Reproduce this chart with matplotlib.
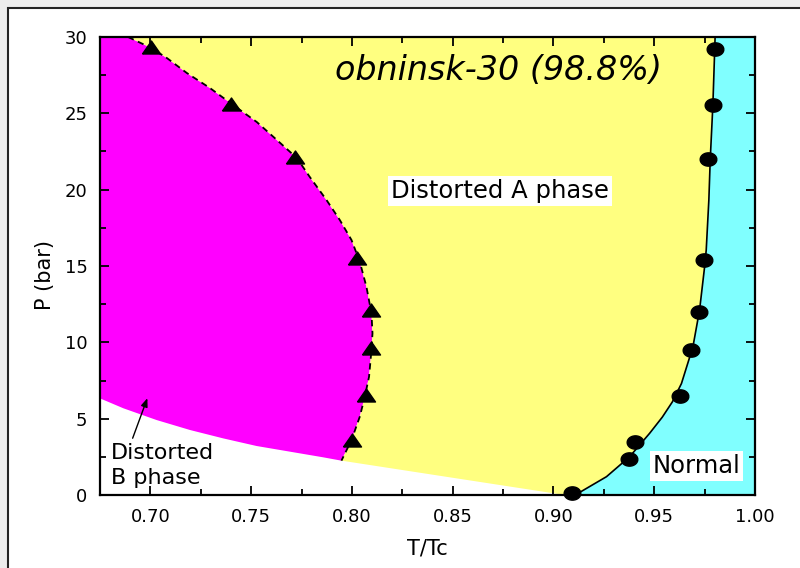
import numpy as np
import matplotlib
matplotlib.use("Agg")
import matplotlib.pyplot as plt
from matplotlib.patches import Rectangle

# measured A-B transition (triangles) and A-N transition (circles)
AB_T = [0.7001, 0.7398, 0.7717, 0.8027, 0.8097, 0.8097, 0.8069, 0.7998]
AB_P = [29.34, 25.63, 22.12, 15.50, 12.12, 9.61, 6.57, 3.58]
AN_T = [0.9800, 0.9791, 0.9766, 0.9745, 0.9720, 0.9684, 0.9626, 0.9404, 0.9375, 0.9092]
AN_P = [29.21, 25.55, 22.01, 15.39, 11.99, 9.48, 6.48, 3.49, 2.38, 0.11]

# guide line for the A-B boundary (top -> bottom)
AB_LINE_T = [0.6889, 0.7001, 0.7082, 0.7181, 0.7295, 0.7410, 0.7528, 0.7628,
             0.7727, 0.7791, 0.7874, 0.7940, 0.7998, 0.8039, 0.8072, 0.8097,
             0.8102, 0.8097, 0.8085, 0.8064, 0.8039, 0.7998, 0.7948]
AB_LINE_P = [30.0, 29.3, 28.62, 27.64, 26.66, 25.55, 24.43, 23.25,
             22.07, 20.83, 19.32, 18.01, 16.70, 15.28, 13.64, 11.90,
             10.59, 9.50, 7.75, 6.44, 5.13, 3.60, 2.25]

# guide line for the A-N boundary (bottom -> top)
AN_LINE_T = [0.9092, 0.9122, 0.9263, 0.9378, 0.9477, 0.9540, 0.9590, 0.9635,
             0.9692, 0.9725, 0.9750, 0.9758, 0.9771, 0.9778, 0.9791, 0.9800,
             0.9802]
AN_LINE_P = [0.0, 0.11, 1.20, 2.51, 4.04, 5.10, 6.10, 7.30,
             9.71, 12.12, 14.95, 16.05, 19.32, 22.01, 25.55, 29.15,
             30.0]

# lower edge of the distorted phases (B phase below), left -> right
B_EDGE_T = [0.6750, 0.6866, 0.7031, 0.7196, 0.7361, 0.7527, 0.7692, 0.7857, 0.7948]
B_EDGE_P = [6.33, 5.68, 4.91, 4.26, 3.71, 3.21, 2.84, 2.47, 2.25]
A_EDGE_T = [0.7948, 0.9056]
A_EDGE_P = [2.25, 0.0]

TMIN, TMAX, PMAX = 0.675, 1.0, 30.0

MAGENTA = "#ff00ff"
YELLOW = "#ffff80"
CYAN = "#80ffff"

plt.rcParams["font.family"] = "DejaVu Sans"

fig = plt.figure(figsize=(8, 5.68), dpi=100)
fig.patch.set_facecolor("#ececec")
fig.patches.append(Rectangle((8 / 800, -0.05), 1.0, 1 - 8 / 568 + 0.05,
                             transform=fig.transFigure, facecolor="white",
                             edgecolor="#222222", lw=1.5, zorder=-10))

ax = fig.add_axes([0.125, 0.1285, 0.81875, 0.8064])
ax.patch.set_alpha(0)
ax.set_xlim(TMIN, TMAX)
ax.set_ylim(0, PMAX)

# phase regions
pink_T = [TMIN] + AB_LINE_T + B_EDGE_T[::-1]
pink_P = [PMAX] + AB_LINE_P + B_EDGE_P[::-1]
ax.fill(pink_T, pink_P, color=MAGENTA, lw=0, zorder=1)

yel_T = AB_LINE_T + A_EDGE_T[1:] + AN_LINE_T
yel_P = AB_LINE_P + A_EDGE_P[1:] + AN_LINE_P
ax.fill(yel_T, yel_P, color=YELLOW, lw=0, zorder=1)

cyan_T = AN_LINE_T + [TMAX, TMAX]
cyan_P = AN_LINE_P + [PMAX, 0.0]
ax.fill(cyan_T, cyan_P, color=CYAN, lw=0, zorder=1)

# boundaries
ax.plot(AB_LINE_T, AB_LINE_P, color="black", lw=1.3, ls=(0, (3.5, 2.5)), zorder=3)
ax.plot(AN_LINE_T, AN_LINE_P, color="black", lw=1.2, zorder=3)

tri = [(-1, -0.72), (1, -0.72), (0, 0.72), (-1, -0.72)]
t = np.linspace(0, 2 * np.pi, 41)
ell = list(zip(np.cos(t), 0.8 * np.sin(t)))
ax.plot(AB_T, AB_P, ls="none", marker=tri, ms=13, color="black", zorder=4,
        clip_on=False)
ax.plot(AN_T, AN_P, ls="none", marker=ell, ms=12, color="black", zorder=4,
        clip_on=False)

# labels
ax.text(0.7915, 27.18, "obninsk-30 (98.8%)", fontsize=24, style="italic",
        ha="left", va="baseline", zorder=5)
ax.text(0.8733, 19.91, "Distorted A phase", fontsize=17.5, ha="center",
        va="center", zorder=5,
        bbox=dict(boxstyle="square,pad=0.12", fc="white", ec="none"))
ax.text(0.9709, 1.90, "Normal", fontsize=17.5, ha="center", va="center",
        zorder=5, bbox=dict(boxstyle="square,pad=0.12", fc="white", ec="none"))
ax.text(0.6803, 0.72, "Distorted\nB phase", fontsize=16, ha="left",
        va="baseline", linespacing=1.3, zorder=5)
ax.annotate("", xy=(0.6985, 6.34), xytext=(0.6912, 3.72),
            arrowprops=dict(arrowstyle="-|>,head_length=0.5,head_width=0.2",
                            color="black", lw=1.0, shrinkA=0, shrinkB=0),
            zorder=5)

# axes styling
ax.set_xticks(np.arange(0.70, 1.001, 0.05))
ax.set_xticklabels([f"{v:.2f}" for v in np.arange(0.70, 1.001, 0.05)])
ax.set_xticks(np.arange(0.675, 1.0, 0.05), minor=True)
ax.set_yticks(np.arange(0, 31, 5))
ax.set_yticks(np.arange(2.5, 30, 5), minor=True)
ax.tick_params(which="both", direction="in", top=True, right=True,
               width=1.3, labelsize=13, pad=9)
ax.tick_params(which="major", length=6.5)
ax.tick_params(which="minor", length=4)
for s in ax.spines.values():
    s.set_linewidth(1.6)
    s.set_zorder(6)

ax.set_xlabel("T/Tc", fontsize=15)
ax.set_ylabel("P (bar)", fontsize=15)
ax.xaxis.set_label_coords(0.5, -0.094)
ax.yaxis.set_label_coords(-0.0687, 0.48)

fig.savefig("out.png", dpi=100, facecolor=fig.get_facecolor())
